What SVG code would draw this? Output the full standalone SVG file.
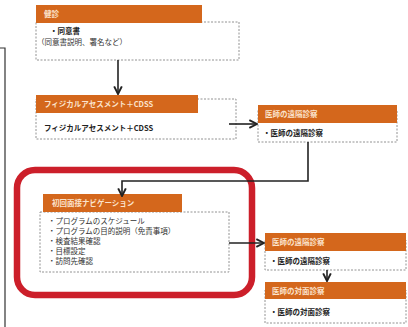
<svg xmlns="http://www.w3.org/2000/svg" width="408" height="327" viewBox="0 0 408 327">
<defs>
<style>
.hd{fill:#d4671c}
.bx{fill:#fff;stroke:#777;stroke-width:0.8;stroke-dasharray:2,1.5}
.ht{font-family:"Noto Sans CJK JP","Liberation Sans",sans-serif;font-size:7.5px;fill:#fbe3cc;font-weight:bold}
.bt{font-family:"Noto Sans CJK JP","Liberation Sans",sans-serif;font-size:7.5px;fill:#222;font-weight:bold}
.nt{font-family:"Noto Sans CJK JP","Liberation Sans",sans-serif;font-size:7.5px;fill:#333}
.ln{fill:none;stroke:#222;stroke-width:1.6}
</style>
<marker id="ah" viewBox="0 0 10 10" refX="9" refY="5" markerWidth="6" markerHeight="6" orient="auto">
<path d="M1,1 L9,5 L1,9" fill="none" stroke="#222" stroke-width="2"/>
</marker>
</defs>
<rect width="408" height="327" fill="#fff"/>
<g id="frame"><path d="M0,48 H5 V327" fill="none" stroke="#333" stroke-width="1.2"/></g>
<g id="highlight"><rect x="17" y="170" width="235" height="125" rx="18" fill="none" stroke="#cc1f2a" stroke-width="6.5"/></g>
<g id="kenshin">
<rect class="bx" x="36" y="22" width="203" height="38"/>
<rect class="hd" x="36" y="5" width="166" height="18"/>
<text class="ht" x="44" y="16.5">健診</text>
<text class="bt" x="50" y="34">・同意書</text>
<text class="nt" x="37" y="45">（同意書説明、署名など）</text>
</g>
<g id="physical">
<rect class="bx" x="36" y="99" width="200" height="40"/>
<rect class="hd" x="36" y="95" width="162" height="18"/>
<text class="ht" x="44" y="107">フィジカルアセスメント＋CDSS</text>
<text class="bt" x="44" y="131">フィジカルアセスメント＋CDSS</text>
</g>
<g id="remote1">
<rect class="bx" x="258" y="110" width="139" height="32"/>
<rect class="hd" x="258" y="105" width="139" height="18"/>
<text class="ht" x="265" y="117">医師の遠隔診察</text>
<text class="bt" x="263" y="136">・医師の遠隔診察</text>
</g>
<g id="navigation">
<rect class="bx" x="40" y="212" width="189" height="60"/>
<rect class="hd" x="43" y="194" width="139" height="18"/>
<text class="ht" x="52" y="206">初回面接ナビゲーション</text>
<text class="nt" x="48" y="224">・プログラムのスケジュール</text>
<text class="nt" x="48" y="234">・プログラムの目的説明（免責事項）</text>
<text class="nt" x="48" y="244">・検査結果確認</text>
<text class="nt" x="48" y="254">・目標設定</text>
<text class="nt" x="48" y="264">・訪問先確認</text>
</g>
<g id="remote2">
<rect class="bx" x="265" y="240" width="141" height="30"/>
<rect class="hd" x="265" y="233" width="141" height="18"/>
<text class="ht" x="272" y="245">医師の遠隔診察</text>
<text class="bt" x="270" y="264">・医師の遠隔診察</text>
</g>
<g id="facetoface">
<rect class="bx" x="265" y="290" width="141" height="33"/>
<rect class="hd" x="265" y="282" width="141" height="17"/>
<text class="ht" x="272" y="294">医師の対面診察</text>
<text class="bt" x="270" y="315">・医師の対面診察</text>
</g>
<g id="connectors">
<path class="ln" d="M118,60 V94" marker-end="url(#ah)"/>
<path class="ln" d="M229,124 H257" marker-end="url(#ah)"/>
<path class="ln" d="M308,142 V181 H122 V196" marker-end="url(#ah)"/>
<path class="ln" d="M229,243 H264" marker-end="url(#ah)"/>
<path class="ln" d="M327,270 V281" marker-end="url(#ah)"/>
</g>
</svg>
